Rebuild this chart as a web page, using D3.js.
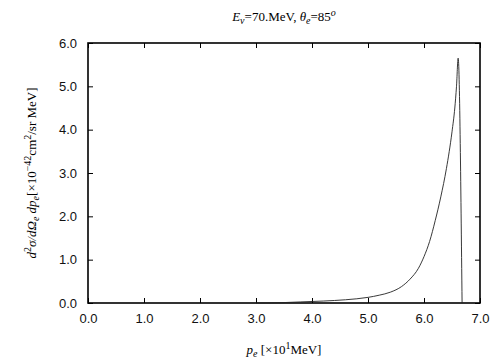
<!DOCTYPE html>
<html>
<head>
<meta charset="utf-8">
<script src="https://cdn.jsdelivr.net/npm/d3@7"></script>
<style>
  body { margin: 0; background: #fff; }
  svg { display: block; }
  .tick text { font-family: "Liberation Sans", Arial, sans-serif; font-size: 13px; fill: #111; }
  .lbl { font-family: "Liberation Serif", "Times New Roman", serif; font-size: 13px; }
</style>
</head>
<body>
<div id="chart"></div>
<script>
// momentum p_e in units of 10 MeV
const momentum = [3.0, 3.5, 3.8, 4.2, 4.6, 5.0, 5.2, 5.4, 5.6, 5.75, 5.9, 6.0, 6.1, 6.2, 6.3, 6.4, 6.5, 6.55, 6.58, 6.61, 6.68];
// cross section [1e-42 cm^2/sr MeV]
const crossSection = [0.0, 0.01, 0.025, 0.045, 0.075, 0.13, 0.18, 0.25, 0.38, 0.55, 0.8, 1.07, 1.42, 1.9, 2.45, 3.1, 3.95, 4.5, 4.99, 5.65, 0.0];
const xTicks = [0, 1, 2, 3, 4, 5, 6, 7];
const yTicks = [0, 1, 2, 3, 4, 5, 6];

const W = 504, H = 360;
const margin = { top: 43, right: 24, bottom: 57, left: 88 };
const width = W - margin.left - margin.right,
      height = H - margin.top - margin.bottom;

const svg = d3.select("#chart").append("svg")
  .attr("width", W)
  .attr("height", H);

const g = svg.append("g")
  .attr("transform", `translate(${margin.left},${margin.top})`);

const x = d3.scaleLinear().domain([0, 7]).range([0, width]);
const y = d3.scaleLinear().domain([0, 6]).range([height, 0]);

// axes with inward ticks, mirrored on top/right
const fmt = d3.format(".1f");
g.append("g")
  .attr("transform", `translate(0,${height})`)
  .call(d3.axisBottom(x).tickValues(xTicks).tickFormat(fmt).tickSizeInner(-5).tickSizeOuter(0).tickPadding(11));
g.append("g")
  .call(d3.axisLeft(y).tickValues(yTicks).tickFormat(fmt).tickSizeInner(-5).tickSizeOuter(0).tickPadding(11));
g.append("g")
  .call(d3.axisTop(x).tickValues(xTicks).tickFormat("").tickSizeInner(-5).tickSizeOuter(0));
g.append("g")
  .attr("transform", `translate(${width},0)`)
  .call(d3.axisRight(y).tickValues(yTicks).tickFormat("").tickSizeInner(-5).tickSizeOuter(0));
g.selectAll(".domain").remove();
g.selectAll(".tick line").attr("stroke", "#000");

// frame
g.append("rect")
  .attr("width", width)
  .attr("height", height)
  .attr("fill", "none")
  .attr("stroke", "#000")
  .attr("stroke-width", 1.6);

// curve
const pts = momentum.map((p, i) => [p, crossSection[i]]);
g.append("path")
  .datum(pts)
  .attr("fill", "none")
  .attr("stroke", "#222")
  .attr("stroke-width", 0.9)
  .attr("d", d3.line().curve(d3.curveMonotoneX).x(d => x(d[0])).y(d => y(d[1])));

// rich text helper: segments [text, italic, pos]
function richText(sel, segs) {
  let shift = 0;
  segs.forEach(([t, it, pos]) => {
    const target = pos === "sub" ? 3 : pos === "sup" ? -5 : 0;
    sel.append("tspan")
      .attr("dy", target - shift)
      .attr("font-style", it ? "italic" : "normal")
      .attr("font-size", pos ? "10px" : null)
      .text(t);
    shift = target;
  });
}

const title = svg.append("text")
  .attr("class", "lbl")
  .attr("x", margin.left + width / 2)
  .attr("y", 21)
  .attr("text-anchor", "middle");
richText(title, [["E", true], ["ν", true, "sub"], ["=70.MeV,  ", false], ["θ", true], ["e", true, "sub"], ["=85", false], ["o", true, "sup"]]);

const xLabel = svg.append("text")
  .attr("class", "lbl")
  .attr("x", margin.left + width / 2)
  .attr("y", 354)
  .attr("text-anchor", "middle");
richText(xLabel, [["p", true], ["e", true, "sub"], ["  [×10", false], ["1", false, "sup"], ["MeV]", false]]);

const yLabel = svg.append("text")
  .attr("class", "lbl")
  .attr("transform", `translate(36,${margin.top + height / 2}) rotate(-90)`)
  .attr("text-anchor", "middle");
richText(yLabel, [["d", true], ["2", false, "sup"], ["σ/dΩ", true], ["e", true, "sub"], [" dp", true], ["e", true, "sub"], ["[×10", false], ["−42", false, "sup"], ["cm", false], ["2", false, "sup"], ["/sr MeV]", false]]);
</script>
</body>
</html>
